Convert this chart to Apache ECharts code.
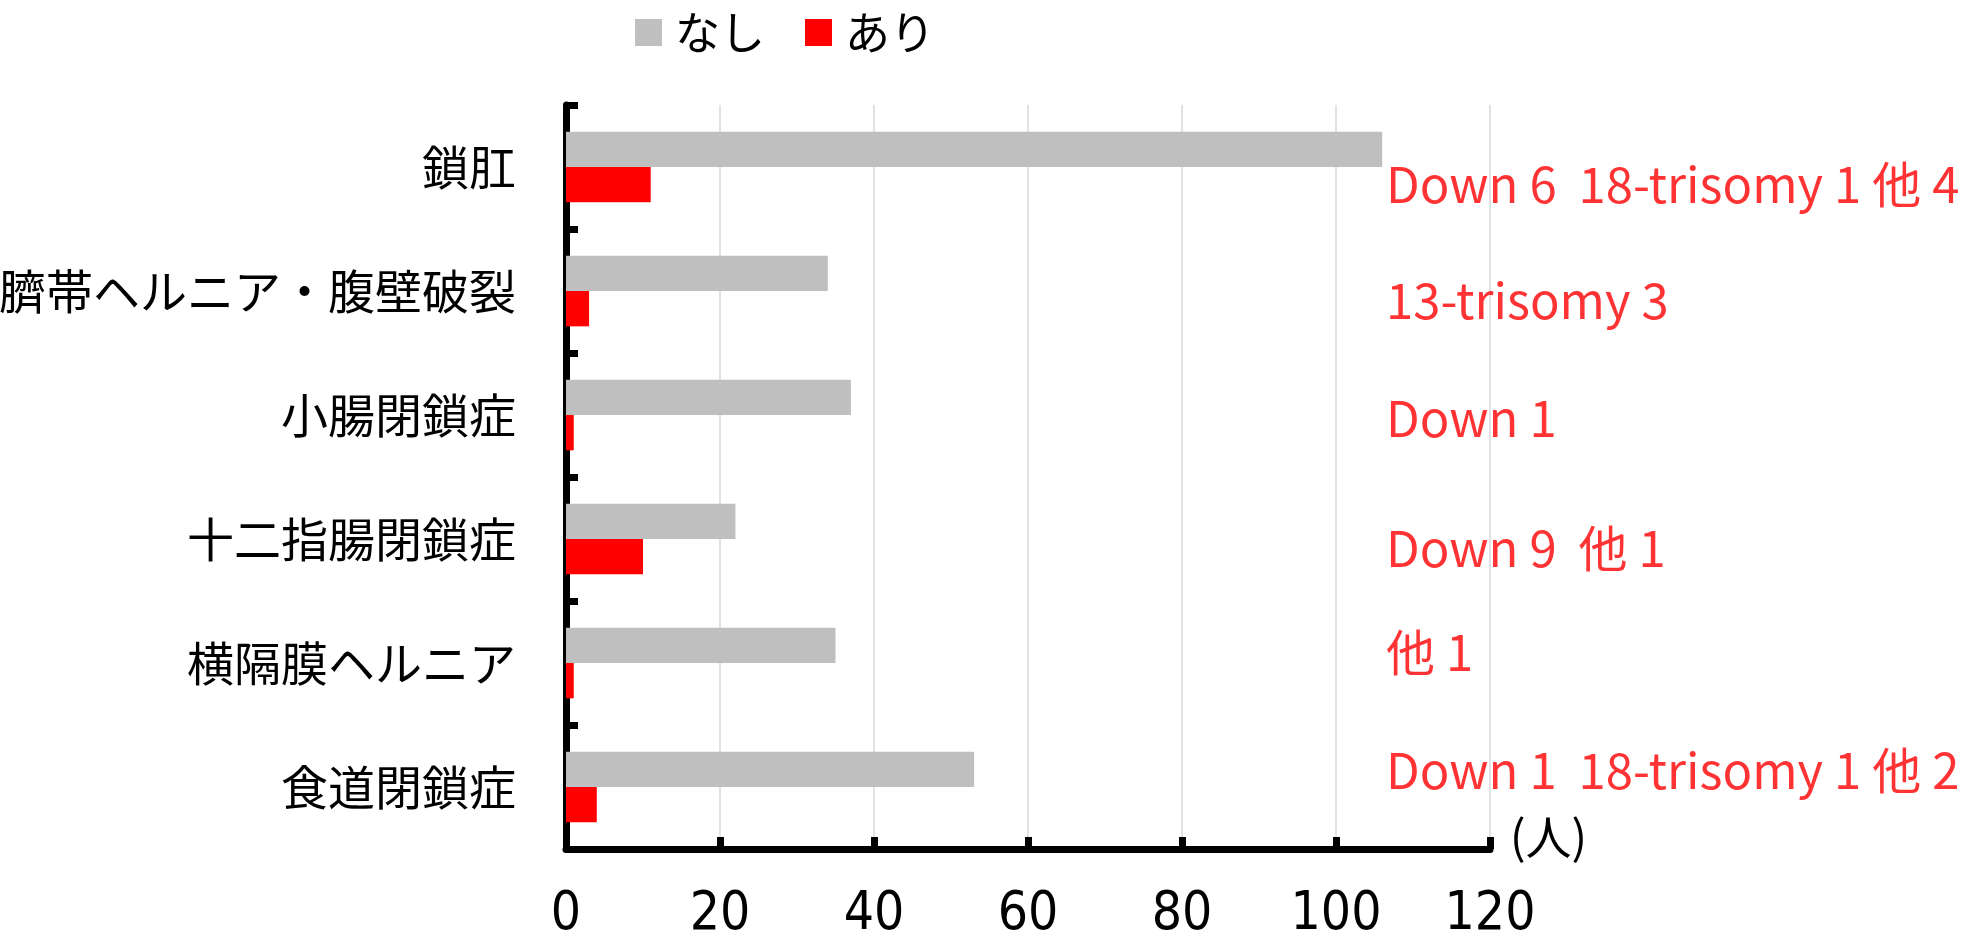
<!DOCTYPE html>
<html>
<head>
<meta charset="utf-8">
<script src="https://cdn.jsdelivr.net/npm/echarts@6/dist/echarts.min.js"></script>
<style>
  html, body { margin: 0; padding: 0; background: #fff; }
  #chart { width: 1967px; height: 931px; }
</style>
</head>
<body>
<div id="chart"></div>
<script>
// Anomaly groups, listed top to bottom
const categories = ['鎖肛', '臍帯ヘルニア・腹壁破裂', '小腸閉鎖症', '十二指腸閉鎖症', '横隔膜ヘルニア', '食道閉鎖症'];
// Number of patients without / with chromosomal abnormality
const seriesNames = ['なし', 'あり'];
const withoutValues = [106, 34, 37, 22, 35, 53];
const withValues = [11, 3, 1, 10, 1, 4];
// Breakdown of the chromosomal abnormalities per group
const breakdown = [
  'Down 6  18-trisomy 1 他 4',
  '13-trisomy 3',
  'Down 1',
  'Down 9  他 1',
  '他 1',
  'Down 1  18-trisomy 1 他 2'
];
const xTicks = { min: 0, max: 120, interval: 20 };

// Where the breakdown column starts on the value axis, and small vertical nudges per line
const NOTE_X = 106.5;
const noteNudge = [17, 9, 3, 9, -11, -17];

const JP = '"Noto Sans CJK JP", "Noto Sans", sans-serif';

const chart = echarts.init(document.getElementById('chart'), null, { renderer: 'canvas' });

chart.setOption({
  animation: false,
  backgroundColor: '#ffffff',
  legend: {
    top: 5,
    left: 630,
    itemWidth: 27,
    itemHeight: 27,
    itemGap: 40,
    icon: 'rect',
    textStyle: { fontFamily: JP, fontSize: 45, color: '#000', padding: [0, 0, 0, 8] },
    data: seriesNames
  },
  grid: { left: 566, right: 477, top: 105, bottom: 82, containLabel: false, outerBoundsMode: 'none' },
  xAxis: {
    type: 'value',
    min: xTicks.min,
    max: xTicks.max,
    interval: xTicks.interval,
    name: '(人)',
    nameLocation: 'end',
    nameGap: 20,
    nameTextStyle: { fontFamily: JP, fontSize: 46, color: '#000', verticalAlign: 'bottom', lineHeight: 24 },
    axisLine: { show: true, lineStyle: { color: '#000', width: 7 } },
    axisTick: { show: true, inside: true, length: 12, lineStyle: { color: '#000', width: 7 } },
    axisLabel: { margin: 40, fontFamily: '"Liberation Sans Narrow", "DejaVu Sans Condensed", sans-serif', fontSize: 53, color: '#000' },
    splitLine: { show: true, lineStyle: { color: '#d9d9d9', width: 1.5 } }
  },
  yAxis: {
    type: 'category',
    inverse: true,
    data: categories,
    axisLine: { show: true, lineStyle: { color: '#000', width: 7 } },
    axisTick: { show: true, inside: true, length: 12, lineStyle: { color: '#000', width: 7 } },
    axisLabel: { margin: 50, fontFamily: JP, fontSize: 47, color: '#000' },
    splitLine: { show: false }
  },
  series: [
    {
      name: seriesNames[0],
      type: 'bar',
      data: withoutValues,
      itemStyle: { color: '#bfbfbf' },
      barGap: '0%',
      barCategoryGap: '43%',
      z: 2
    },
    {
      name: seriesNames[1],
      type: 'bar',
      data: withValues,
      itemStyle: { color: '#ff0000' },
      barGap: '0%',
      barCategoryGap: '43%',
      z: 2
    },
    {
      name: 'breakdown',
      type: 'scatter',
      symbolSize: 0,
      silent: true,
      z: 5,
      data: categories.map((c, i) => ({
        value: [NOTE_X, c],
        label: {
          show: true,
          position: 'right',
          distance: 0,
          offset: [0, noteNudge[i]],
          formatter: () => breakdown[i],
          fontFamily: JP,
          fontSize: 49,
          color: '#ff0000'
        }
      }))
    }
  ]
});
</script>
</body>
</html>
